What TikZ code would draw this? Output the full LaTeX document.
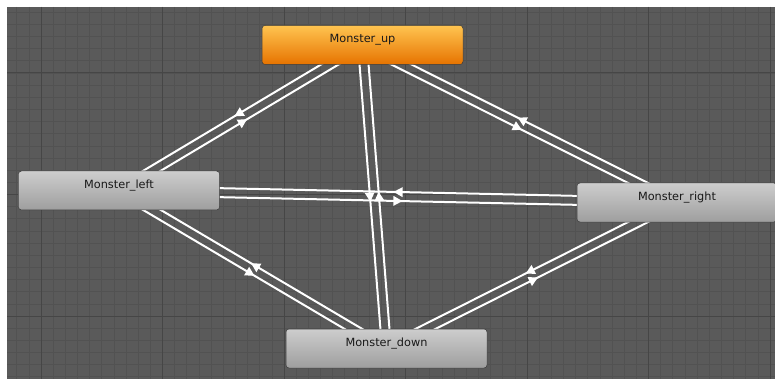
\documentclass[tikz,border=0pt]{standalone}
\usepackage{fontspec}
\setmainfont{DejaVu Sans}
\usetikzlibrary{calc,decorations.markings}
\pgfdeclarelayer{gridlayer}
\pgfdeclarelayer{linelayer}
\pgfsetlayers{gridlayer,linelayer,main}
\definecolor{bggray}{RGB}{90,90,90}
\definecolor{minorline}{RGB}{82,82,82}
\definecolor{majorline}{RGB}{70,70,70}
\definecolor{gtop}{RGB}{205,205,205}
\definecolor{gbot}{RGB}{158,158,158}
\definecolor{otop}{RGB}{255,196,80}
\definecolor{obot}{RGB}{230,115,0}
\definecolor{edgegray}{RGB}{60,60,60}
\definecolor{textgray}{RGB}{25,25,25}
\tikzset{
  state/.style={rectangle, rounded corners=3pt, minimum width=201pt, minimum height=39pt,
    draw=edgegray, line width=0.5pt, inner sep=0pt},
  graystate/.style={state, top color=gtop, bottom color=gbot},
  orangestate/.style={state, top color=otop, bottom color=obot},
  transline/.style={draw=white, line width=2pt, postaction={decorate},
    decoration={markings, mark=at position 0.5 with {\fill[white] (4.5pt,0pt) -- (-4.5pt,5pt) -- (-4.5pt,-5pt) -- cycle;}}},
  lbl/.style={font=\fontsize{11.3}{13}\selectfont, text=textgray, yshift=5pt},
  minorgrid/.style={draw=minorline, line width=0.7pt},
  majorgrid/.style={draw=majorline, line width=1pt}
}
\newcommand\transition[2]{\draw[transline] ($(#1.center)!4.5pt!-90:(#2.center)$) -- ($(#2.center)!4.5pt!90:(#1.center)$);}
\begin{document}
\begin{tikzpicture}[x=1pt,y=-1pt]
\useasboundingbox (0,0) rectangle (775,379);
\begin{pgfonlayer}{gridlayer}
  \fill[white] (0,0) rectangle (775,379);
  \fill[bggray] (7,7) rectangle (775,379);
  \begin{scope}
    \clip (7,7) rectangle (775,379);
    \foreach \i in {-2,...,62} {
      \pgfmathsetmacro\gx{41+\i*12.15}
      \draw[minorgrid] (\gx,7) -- (\gx,379);
    }
    \foreach \j in {-5,...,26} {
      \pgfmathsetmacro\gy{73+\j*12.15}
      \draw[minorgrid] (7,\gy) -- (775,\gy);
    }
    \foreach \i in {0,...,6} {
      \pgfmathsetmacro\gx{41+\i*121.5}
      \draw[majorgrid] (\gx,7) -- (\gx,379);
    }
    \foreach \j in {0,1,2} {
      \pgfmathsetmacro\gy{73+\j*121.5}
      \draw[majorgrid] (7,\gy) -- (775,\gy);
    }
  \end{scope}
\end{pgfonlayer}

\node[orangestate, label={[lbl]center:Monster\_up}] (up) at (362.5,45) {};
\node[graystate, label={[lbl]center:Monster\_left}] (left) at (119,190.5) {};
\node[graystate, minimum width=200pt, label={[lbl]center:Monster\_right}] (right) at (677,202.5) {};
\node[graystate, label={[lbl]center:Monster\_down}] (down) at (386.5,348.5) {};

\begin{pgfonlayer}{linelayer}
  \transition{up}{left}
  \transition{left}{up}
  \transition{up}{right}
  \transition{right}{up}
  \transition{left}{right}
  \transition{right}{left}
  \transition{up}{down}
  \transition{down}{up}
  \transition{left}{down}
  \transition{down}{left}
  \transition{right}{down}
  \transition{down}{right}
\end{pgfonlayer}
\end{tikzpicture}
\end{document}
